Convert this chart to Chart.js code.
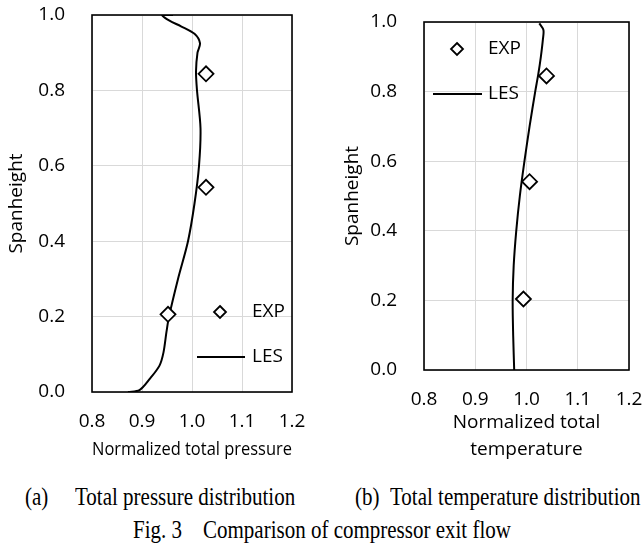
<!DOCTYPE html>
<html>
<head>
<meta charset="utf-8">
<script src="https://cdn.jsdelivr.net/npm/chart.js@4.4.0/dist/chart.umd.min.js"></script>
<style>
body { margin: 0; background: #fff; }
#wrap { position: relative; width: 643px; height: 544px; overflow: hidden; }
#pressChart { position: absolute; left: 0; top: 0; }
#tempChart { position: absolute; left: 330px; top: 0; }
.cap { position: absolute; font-family: "Liberation Serif", "Times New Roman", serif; font-size: 25px; line-height: 25px; color: #000; white-space: nowrap; transform: scaleX(0.84); transform-origin: 0 0; }
</style>
</head>
<body>
<div id="wrap">
  <canvas id="pressChart" width="320" height="470"></canvas>
  <canvas id="tempChart" width="313" height="470"></canvas>
  <div class="cap" style="left:25px; top:484px;">(a)</div>
  <div class="cap" style="left:75px; top:484px;">Total pressure distribution</div>
  <div class="cap" style="left:355px; top:484px;">(b)</div>
  <div class="cap" style="left:390px; top:484px;">Total temperature distribution</div>
  <div class="cap" style="left:133px; top:517px;">Fig. 3</div>
  <div class="cap" style="left:203px; top:517px;">Comparison of compressor exit flow</div>
</div>
<script>
// spanwise profiles at compressor exit

var xTicks = [0.8, 0.9, 1.0, 1.1, 1.2];
var yTicks = [0.0, 0.2, 0.4, 0.6, 0.8, 1.0];

// (a) total pressure
var pressExpX = [1.028, 1.028, 0.952];
var pressExpY = [0.844, 0.543, 0.206];
var pressLesX = [0.872, 0.895, 0.915, 0.935, 0.943, 0.949, 0.954, 0.972, 0.992, 1.005, 1.014, 1.017, 1.010, 1.008, 1.011, 1.016, 1.005, 0.978, 0.955, 0.940, 0.962];
var pressLesY = [0.000, 0.005, 0.034, 0.070, 0.105, 0.160, 0.200, 0.300, 0.400, 0.500, 0.600, 0.700, 0.800, 0.850, 0.900, 0.925, 0.950, 0.970, 0.985, 1.000, 1.000];

// (b) total temperature
var tempExpX = [1.039, 1.006, 0.994];
var tempExpY = [0.845, 0.541, 0.204];
var tempLesX = [0.976, 0.974, 0.973, 0.975, 0.980, 0.987, 0.996, 1.006, 1.017, 1.023, 1.028, 1.032, 1.033, 1.025];
var tempLesY = [0.000, 0.100, 0.200, 0.300, 0.400, 0.500, 0.600, 0.700, 0.800, 0.850, 0.900, 0.950, 0.977, 0.996];

var fontName = "'Open Sans', 'Noto Sans', sans-serif";

function toPoints(xs, ys) {
    var pts = [];
    for (var i = 0; i < xs.length; i++) {
        pts.push({ x: xs[i], y: ys[i] });
    }
    return pts;
}

function diamond(ctx, x, y, r) {
    ctx.beginPath();
    ctx.moveTo(x, y - r);
    ctx.lineTo(x + r, y);
    ctx.lineTo(x, y + r);
    ctx.lineTo(x - r, y);
    ctx.closePath();
    ctx.fillStyle = '#fff';
    ctx.fill();
    ctx.stroke();
}

// frame round the plot area plus the legend drawn inside it
var boxPlugin = {
    id: 'box',
    afterDraw: function(chart, args, opts) {
        var ctx = chart.ctx;
        var a = chart.chartArea;
        ctx.save();
        ctx.strokeStyle = '#000';
        ctx.lineWidth = 1.6;
        ctx.strokeRect(a.left, a.top, a.right - a.left, a.bottom - a.top);

        ctx.lineWidth = 1.8;
        diamond(ctx, a.left + opts.exp[0], a.top + opts.exp[1], 6);
        ctx.lineWidth = 2;
        ctx.beginPath();
        ctx.moveTo(a.left + opts.les[0], a.top + opts.les[2]);
        ctx.lineTo(a.left + opts.les[1], a.top + opts.les[2]);
        ctx.stroke();

        ctx.fillStyle = '#000';
        ctx.font = "19px " + fontName;
        ctx.textBaseline = 'middle';
        ctx.textAlign = 'left';
        ctx.fillText('EXP', a.left + opts.text, a.top + opts.exp[1]);
        ctx.fillText('LES', a.left + opts.text, a.top + opts.les[2]);
        ctx.restore();
    }
};

function makeChart(id, expX, expY, lesX, lesY, xTitle, pad, yAxisW, xAxisH, yTitlePad, legend) {
    var ctx = document.getElementById(id);
    return new Chart(ctx, {
        type: 'scatter',
        data: {
            datasets: [
                {
                    label: 'LES',
                    data: toPoints(lesX, lesY),
                    showLine: true,
                    borderColor: '#000',
                    borderWidth: 2,
                    pointRadius: 0,
                    tension: 0.3,
                    order: 2
                },
                {
                    label: 'EXP',
                    data: toPoints(expX, expY),
                    pointStyle: 'rectRot',
                    pointRadius: 7.5,
                    pointBorderWidth: 1.8,
                    pointBorderColor: '#000',
                    pointBackgroundColor: '#fff',
                    order: 1
                }
            ]
        },
        options: {
            responsive: false,
            animation: false,
            layout: { padding: pad },
            plugins: {
                legend: { display: false },
                tooltip: { enabled: false },
                box: legend
            },
            scales: {
                x: {
                    type: 'linear',
                    min: 0.8,
                    max: 1.2,
                    afterBuildTicks: function(axis) {
                        axis.ticks = xTicks.map(function(v) { return { value: v }; });
                    },
                    afterFit: function(axis) {
                        axis.height = xAxisH;
                        axis.paddingLeft = 0;
                        axis.paddingRight = 0;
                    },
                    ticks: {
                        padding: 18,
                        color: '#000',
                        font: { family: fontName, size: 19 },
                        callback: function(v) { return v.toFixed(1); }
                    },
                    grid: { color: '#d9d9d9', lineWidth: 1, drawTicks: false },
                    border: { display: false },
                    title: {
                        display: true,
                        text: xTitle,
                        color: '#000',
                        font: { family: fontName, size: 19, lineHeight: '27px' },
                        padding: { top: 4, bottom: 4 }
                    }
                },
                y: {
                    type: 'linear',
                    min: 0,
                    max: 1,
                    afterBuildTicks: function(axis) {
                        axis.ticks = yTicks.map(function(v) { return { value: v }; });
                    },
                    afterFit: function(axis) {
                        // keep the label padding from pushing the plot down
                        axis.width = yAxisW;
                        axis.paddingTop = 0;
                        axis.paddingBottom = 0;
                    },
                    ticks: {
                        padding: 27,
                        color: '#000',
                        font: { family: fontName, size: 19 },
                        callback: function(v) { return v.toFixed(1); }
                    },
                    grid: { color: '#d9d9d9', lineWidth: 1, drawTicks: false },
                    border: { display: false },
                    title: {
                        display: true,
                        text: 'Spanheight',
                        color: '#000',
                        font: { family: fontName, size: 19 },
                        padding: { top: yTitlePad, bottom: 4 }
                    }
                }
            }
        },
        plugins: [boxPlugin]
    });
}

var pressChart = makeChart('pressChart', pressExpX, pressExpY, pressLesX, pressLesY,
    'Normalized total pressure',
    { top: 15, left: 0, right: 28, bottom: 2.5 }, 92, 75.5, 5.6,
    { exp: [128, 297], les: [105, 153, 342], text: 160 });

var tempChart = makeChart('tempChart', tempExpX, tempExpY, tempLesX, tempLesY,
    ['Normalized total', 'temperature'],
    { top: 22, left: 0, right: 14, bottom: 2.5 }, 94, 97.5, 11.6,
    { exp: [33, 27], les: [9, 58, 72], text: 64 });
</script>
</body>
</html>
